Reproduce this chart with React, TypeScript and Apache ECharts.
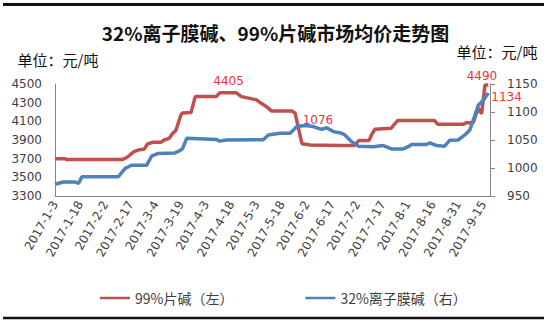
import React, { useEffect, useRef } from "react";
import * as echarts from "echarts";

// x positions are day offsets from 2017-1-3
const dateLabels = [
  "2017-1-3", "2017-1-18", "2017-2-2", "2017-2-17", "2017-3-4", "2017-3-19",
  "2017-4-3", "2017-4-18", "2017-5-3", "2017-5-18", "2017-6-2", "2017-6-17",
  "2017-7-2", "2017-7-17", "2017-8-1", "2017-8-16", "2017-8-31", "2017-9-15",
];

const leftTicks = [3300, 3500, 3700, 3900, 4100, 4300, 4500];
const rightTicks = [950, 1000, 1050, 1100, 1150];

// 99%片碱 (left axis)
const flakeDays = [
  0, 6, 7, 40, 43, 47, 50, 53, 55, 58, 63, 65, 68, 70, 72, 75, 76, 81, 83.5, 96,
  98, 108, 111, 116, 120, 123, 126, 129, 141, 143, 147, 152, 170, 178, 181, 187,
  188.5, 190.5, 200, 204, 226, 228, 243, 245, 249, 252, 254, 256, 258,
];
const flakeValues = [
  3700, 3700, 3690, 3690, 3715, 3775, 3795, 3800, 3855, 3875, 3875, 3900, 3918,
  3970, 4005, 4170, 4190, 4195, 4365, 4365, 4405, 4405, 4365, 4346, 4330, 4290,
  4257, 4210, 4210, 4186, 3860, 3846, 3840, 3840, 3895, 3895, 3957, 4015, 4025,
  4108, 4108, 4068, 4068, 4086, 4086, 4240, 4180, 4490, 4490,
];

// 32%离子膜碱 (right axis)
const membraneDays = [
  0, 5, 12, 14, 16, 37.7, 41.7, 45.6, 54.6, 57.5, 61.5, 71.4, 74.4, 76, 78.4, 96,
  98, 102, 124, 127, 134, 140, 144, 148.8, 153.8, 158.7, 161.7, 165.7, 169.6,
  172.6, 176.6, 180.5, 189.5, 195.4, 200.4, 207.3, 210.3, 212.3, 221.2, 223.2,
  227.2, 232, 235, 240, 244, 247, 250, 252, 255, 258,
];
const membraneValues = [
  971, 975, 975, 972.5, 984.5, 984.5, 999, 1005, 1005, 1021, 1026, 1027, 1031,
  1035, 1053, 1051, 1048, 1050, 1050.5, 1059, 1062, 1062, 1074, 1076, 1074, 1069,
  1072, 1065, 1063, 1059, 1047, 1039, 1038, 1040, 1034, 1034, 1038, 1042, 1042,
  1045, 1040, 1039, 1049.5, 1050, 1059, 1068, 1094, 1112, 1121, 1134,
];

const seriesNames = ["99%片碱（左）", "32%离子膜碱（右）"];
const RED = "#C0504D";
const BLUE = "#4F81BD";
const ANNO = "#E8343A";
const NUM_FONT = "DejaVu Sans";
const CJK_FONT = "Noto Sans CJK SC";

export default function App() {
  const ref = useRef<HTMLDivElement>(null);

  useEffect(() => {
    if (!ref.current) return;
    const chart = echarts.init(ref.current, undefined, { renderer: "svg" });

    const anno = (day: number, value: number, text: string, label: any) => ({
      coord: [day, value],
      symbol: "circle",
      symbolSize: 0,
      label: {
        show: true,
        formatter: text,
        color: ANNO,
        fontSize: 12,
        fontFamily: NUM_FONT,
        ...label,
      },
    });

    const pkF = flakeValues.indexOf(4405);
    const lastF = flakeValues.length - 2;
    const pkM = membraneValues.indexOf(1076);
    const lastM = membraneValues.length - 1;

    const axisGray = "#868686";
    const labelGray = "#404040";
    const plain = (v: number) => String(v);

    chart.setOption({
      animation: false,
      backgroundColor: "#ffffff",
      grid: { left: 55, right: 59, top: 84, bottom: 127, containLabel: false },
      graphic: [
        { type: "line", shape: { x1: 3, y1: 4.5, x2: 544, y2: 4.5 }, style: { stroke: "#111", lineWidth: 3 } },
        { type: "line", shape: { x1: 3, y1: 318, x2: 544, y2: 318 }, style: { stroke: "#111", lineWidth: 2.5 } },
        {
          type: "text", x: 275.5, y: 32,
          style: { text: "32%离子膜碱、99%片碱市场均价走势图", fontSize: 19, fontWeight: "bold", fontFamily: CJK_FONT, fill: "#111", align: "center", verticalAlign: "middle" },
        },
        {
          type: "text", x: 58, y: 59,
          style: { text: "单位：元/吨", fontSize: 15, fontFamily: CJK_FONT, fill: "#111", align: "center", verticalAlign: "middle" },
        },
        {
          type: "text", x: 497, y: 51,
          style: { text: "单位：元/吨", fontSize: 15, fontFamily: CJK_FONT, fill: "#111", align: "center", verticalAlign: "middle" },
        },
      ],
      legend: {
        data: seriesNames,
        left: 95,
        top: 286,
        icon: "rect",
        itemWidth: 30,
        itemHeight: 2.5,
        itemGap: 72,
        textStyle: { fontSize: 14, fontFamily: CJK_FONT, color: labelGray },
      },
      xAxis: {
        type: "value",
        min: 0,
        max: 259,
        interval: 15,
        splitLine: { show: false },
        axisTick: { show: false },
        axisLine: { lineStyle: { color: axisGray, width: 1 } },
        axisLabel: {
          rotate: 60,
          margin: 6,
          fontSize: 12,
          fontFamily: NUM_FONT,
          color: labelGray,
          showMaxLabel: false,
          formatter: (v: number) => {
            const i = Math.round(v / 15);
            return Math.abs(v - i * 15) < 1e-6 && dateLabels[i] ? dateLabels[i] : "";
          },
        },
      },
      yAxis: [
        {
          type: "value",
          min: leftTicks[0],
          max: leftTicks[leftTicks.length - 1],
          splitLine: { show: false },
          axisTick: { show: false },
          axisLine: { show: true, lineStyle: { color: axisGray, width: 1 } },
          axisLabel: {
            customValues: leftTicks,
            formatter: plain,
            margin: 13,
            fontSize: 12,
            fontFamily: NUM_FONT,
            color: labelGray,
          },
        },
        {
          type: "value",
          position: "right",
          min: rightTicks[0],
          max: rightTicks[rightTicks.length - 1],
          interval: 50,
          splitLine: { show: false },
          axisTick: { show: true, length: 5, lineStyle: { color: axisGray } },
          axisLine: { show: true, lineStyle: { color: axisGray, width: 1 } },
          axisLabel: {
            formatter: plain,
            margin: 17,
            fontSize: 12,
            fontFamily: NUM_FONT,
            color: labelGray,
          },
        },
      ],
      series: [
        {
          name: seriesNames[0],
          type: "line",
          yAxisIndex: 0,
          symbol: "none",
          color: RED,
          lineStyle: { color: RED, width: 3.5 },
          data: flakeDays.map((d, i) => [d, flakeValues[i]]),
          markPoint: {
            silent: true,
            data: [
              anno(flakeDays[pkF], flakeValues[pkF], "4405", { position: "top", distance: 6, offset: [9, 0] }),
              anno(flakeDays[lastF], flakeValues[lastF], "4490", { position: "top", distance: 3, offset: [-3, 0] }),
            ],
          },
        },
        {
          name: seriesNames[1],
          type: "line",
          yAxisIndex: 1,
          symbol: "none",
          color: BLUE,
          lineStyle: { color: BLUE, width: 3.5 },
          data: membraneDays.map((d, i) => [d, membraneValues[i]]),
          markPoint: {
            silent: true,
            data: [
              anno(membraneDays[pkM], membraneValues[pkM], "1076", { position: "top", distance: 0, offset: [13, 1] }),
              anno(membraneDays[lastM], membraneValues[lastM], "1134", { position: "right", distance: 3, offset: [0, 4] }),
            ],
          },
        },
      ],
    });

    return () => chart.dispose();
  }, []);

  return (
    <div
      ref={ref}
      style={{ position: "absolute", left: 0, top: 0, width: 549, height: 323, background: "#fff" }}
    />
  );
}
